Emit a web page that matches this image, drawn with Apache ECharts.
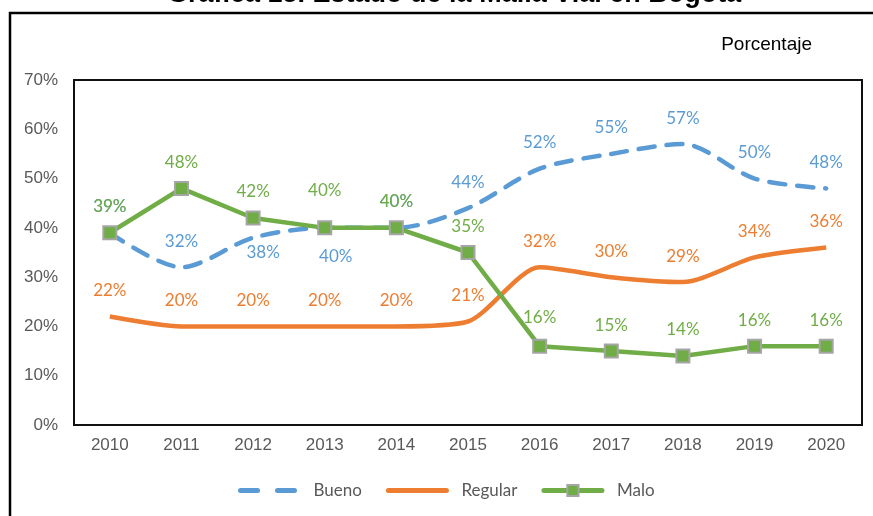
<!DOCTYPE html>
<html>
<head>
<meta charset="utf-8">
<script src="https://cdn.jsdelivr.net/npm/echarts@6/dist/echarts.min.js"></script>
<style>
  html, body { margin: 0; padding: 0; background: #fff; }
  #chart { width: 873px; height: 516px; }
</style>
</head>
<body>
<div id="chart"></div>
<script>
const years = ['2010', '2011', '2012', '2013', '2014', '2015', '2016', '2017', '2018', '2019', '2020'];
const bueno = [39, 32, 38, 40, 40, 44, 52, 55, 57, 50, 48];
const regular = [22, 20, 20, 20, 20, 21, 32, 30, 29, 34, 36];
const malo = [39, 48, 42, 40, 40, 35, 16, 15, 14, 16, 16];

// label offsets (dx, dy) against the point, default is above
const buenoOffsets = { 2: [10, 15], 3: [11, 29] };
const maloOffsets = { 3: [0, -37], 6: [0, -29] };

const BLUE = '#5B9BD5', ORANGE = '#ED7D31', GREEN = '#70AD47';
const labelFont = { fontFamily: 'Lato', fontSize: 17 };

function withLabels(values, color, offsets) {
  return values.map((v, i) => ({
    value: v,
    label: {
      show: true,
      position: 'inside',
      offset: offsets[i] || [0, -26],
      formatter: '{c}%',
      color: color,
      ...labelFont
    }
  }));
}

let myChart = echarts.init(document.getElementById('chart'));

const option = {
  animation: false,
  graphic: [
    {
      type: 'text',
      left: 167,
      top: -19,
      style: {
        text: 'Gráfica 15. Estado de la Malla Vial en Bogotá',
        font: 'bold 27px "Liberation Sans", Arial',
        fill: '#000'
      }
    },
    {
      type: 'rect',
      shape: { x: 10, y: 13, width: 900, height: 600 },
      style: { fill: 'none', stroke: '#000', lineWidth: 2.5 },
      silent: true
    },
    {
      type: 'text',
      right: 61,
      top: 35,
      style: {
        text: 'Porcentaje',
        font: '19px "Liberation Sans", Arial',
        fill: '#000'
      }
    }
  ],
  grid: {
    left: 74,
    top: 80,
    right: 11,
    bottom: 91,
    show: true,
    borderColor: '#111',
    borderWidth: 2
  },
  legend: {
    bottom: 12,
    left: 233,
    itemWidth: 58,
    itemHeight: 14,
    itemGap: 24,
    textStyle: { color: '#595959', fontFamily: 'Lato', fontSize: 17, padding: [0, 0, 0, 10] },
    data: [
      { name: 'Bueno', itemStyle: { opacity: 0 }, lineStyle: { width: 5, type: [17, 20], cap: 'round' } },
      { name: 'Regular', itemStyle: { opacity: 0 }, lineStyle: { width: 5, cap: 'round' } },
      { name: 'Malo', lineStyle: { width: 5, cap: 'round' } }
    ]
  },
  xAxis: {
    type: 'category',
    data: years,
    boundaryGap: true,
    axisLine: { show: false },
    axisTick: { show: false },
    axisLabel: { color: '#595959', fontFamily: 'Liberation Sans', fontSize: 17, margin: 12 }
  },
  yAxis: {
    type: 'value',
    min: 0,
    max: 70,
    interval: 10,
    axisLine: { show: false },
    axisTick: { show: false },
    splitLine: { show: false },
    axisLabel: { color: '#595959', fontFamily: 'Liberation Sans', fontSize: 17, formatter: '{value}%', margin: 16 }
  },
  series: [
    {
      name: 'Bueno',
      type: 'line',
      smooth: 0.3,
      symbol: 'circle',
      symbolSize: 0,
      showSymbol: true,
      lineStyle: { color: BLUE, width: 4.5, type: [16, 12], cap: 'round' },
      itemStyle: { color: BLUE },
      data: withLabels(bueno, BLUE, buenoOffsets),
      z: 2
    },
    {
      name: 'Regular',
      type: 'line',
      smooth: 0.25,
      symbol: 'circle',
      symbolSize: 0,
      showSymbol: true,
      lineStyle: { color: ORANGE, width: 4.5 },
      itemStyle: { color: ORANGE },
      data: withLabels(regular, ORANGE, {}),
      z: 3
    },
    {
      name: 'Malo',
      type: 'line',
      symbol: 'rect',
      symbolSize: 13,
      lineStyle: { color: GREEN, width: 4.5 },
      itemStyle: { color: GREEN, borderColor: '#A5A5A5', borderWidth: 2 },
      data: withLabels(malo, GREEN, maloOffsets),
      z: 4
    }
  ]
};

myChart.setOption(option);

window.addEventListener('resize', function() {
  myChart.resize();
});
</script>
</body>
</html>
